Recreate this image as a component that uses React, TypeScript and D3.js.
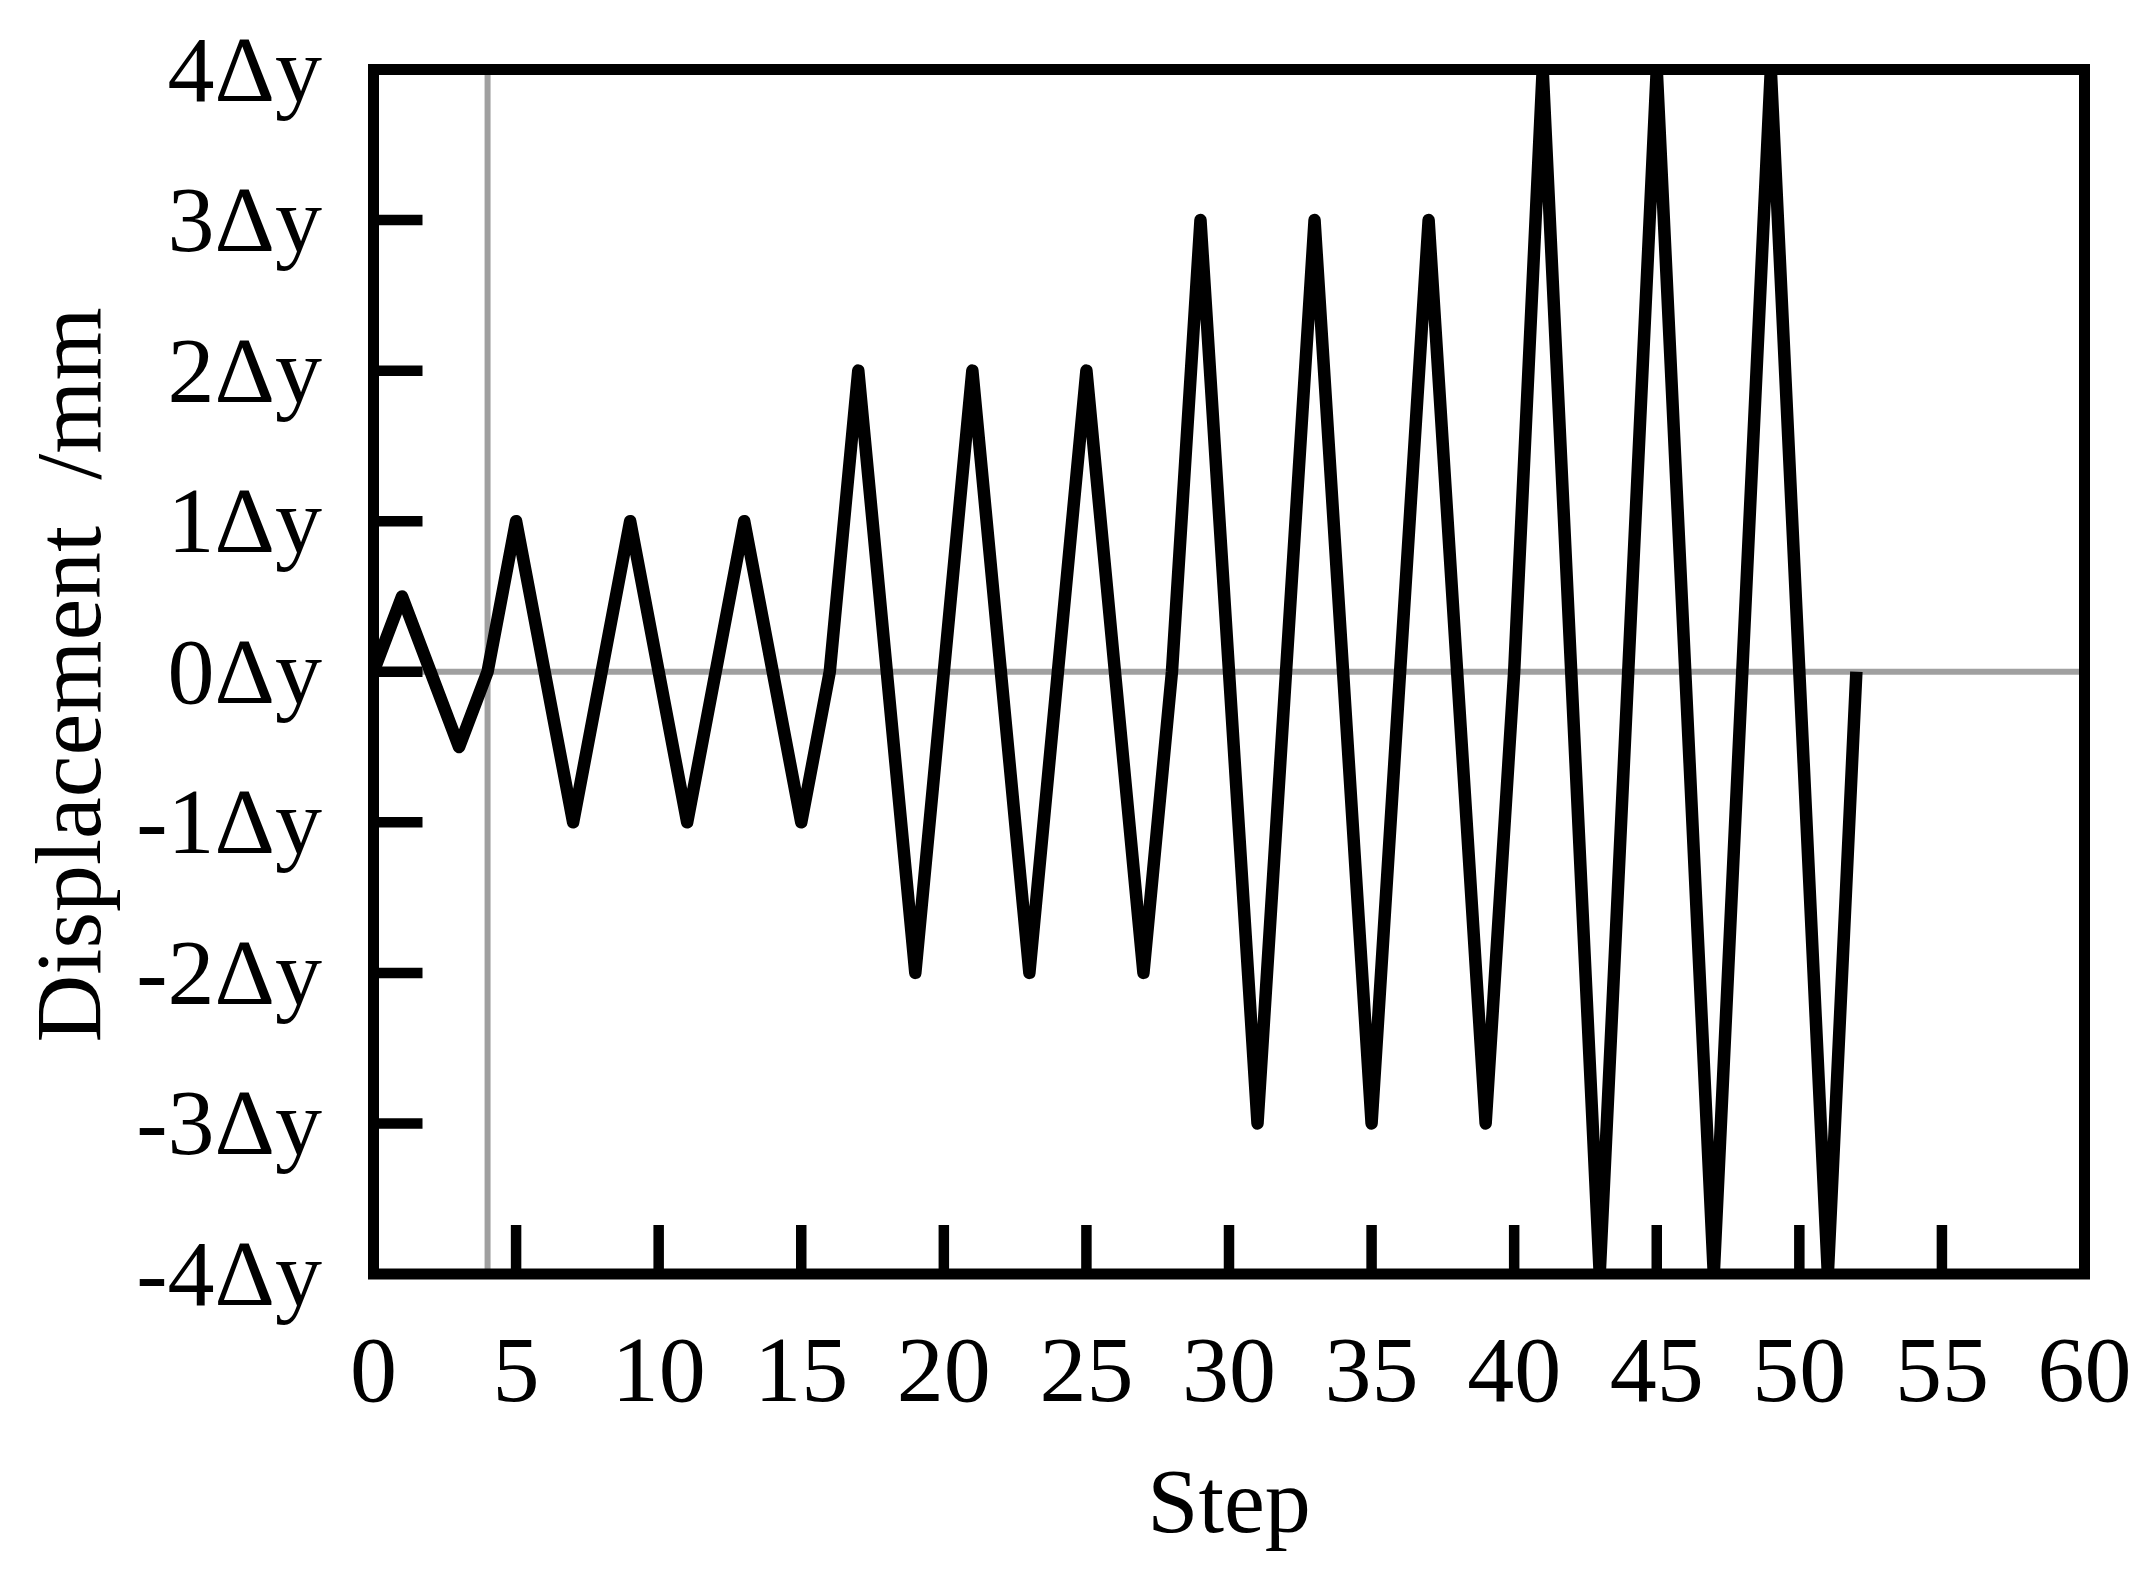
import React from "react";
import { scaleLinear, line } from "d3";

// loading protocol (step, displacement in multiples of Δy)
const steps = [0, 1, 3, 4, 5, 7, 9, 11, 13, 15, 16, 17, 19, 21, 23, 25, 27, 28, 29, 31, 33, 35, 37, 39, 40, 41, 43, 45, 47, 49, 51, 52];
const disp = [0, 0.5, -0.5, 0, 1, -1, 1, -1, 1, -1, 0, 2, -2, 2, -2, 2, -2, 0, 3, -3, 3, -3, 3, -3, 0, 4, -4, 4, -4, 4, -4, 0];

const xTicks = [0, 5, 10, 15, 20, 25, 30, 35, 40, 45, 50, 55, 60];
const yTicks = [4, 3, 2, 1, 0, -1, -2, -3, -4];
const yTickLabels = ["4Δy", "3Δy", "2Δy", "1Δy", "0Δy", "-1Δy", "-2Δy", "-3Δy", "-4Δy"];
const refX = 4;
const refY = 0;

const App = () => {
  const width = 2146;
  const height = 1580;
  const left = 373.5, right = 2084.5, top = 69.5, bottom = 1274;
  const font = "'Liberation Serif', 'Times New Roman', serif";

  const xScale = scaleLinear().domain([0, 60]).range([left, right]);
  const yScale = scaleLinear().domain([-4, 4]).range([bottom, top]);

  const pts = steps.map((s, i) => [s, disp[i]] as [number, number]);
  const path = line<[number, number]>()
    .x((d) => xScale(d[0]))
    .y((d) => yScale(d[1]))(pts);

  return (
    <svg width={width} height={height} style={{ position: "absolute", left: 0, top: 0, background: "#fff" }}>
      <defs>
        <clipPath id="plot">
          <rect x={left} y={top} width={right - left} height={bottom - top} />
        </clipPath>
      </defs>
      {/* reference lines */}
      <line x1={xScale(refX)} x2={xScale(refX)} y1={top} y2={bottom} stroke="#a0a0a0" strokeWidth={6} />
      <line x1={left} x2={right} y1={yScale(refY)} y2={yScale(refY)} stroke="#a0a0a0" strokeWidth={6} />

      <path d={path || ""} fill="none" stroke="#000" strokeWidth={12.5} strokeLinejoin="round" clipPath="url(#plot)" />

      {/* ticks */}
      {yTicks.filter((t) => t > -4 && t < 4).map((t) => (
        <line key={"yt" + t} x1={left} x2={left + 49} y1={yScale(t)} y2={yScale(t)} stroke="#000" strokeWidth={10.5} />
      ))}
      {xTicks.filter((t) => t > 0 && t < 60).map((t) => (
        <line key={"xt" + t} x1={xScale(t)} x2={xScale(t)} y1={bottom} y2={bottom - 49} stroke="#000" strokeWidth={10.5} />
      ))}

      <rect x={left} y={top} width={right - left} height={bottom - top} fill="none" stroke="#000" strokeWidth={11} />

      {/* tick labels */}
      {yTicks.map((t, i) => (
        <text key={"yl" + t} x={322} y={yScale(t) + 31} textAnchor="end" fontFamily={font} fontSize={94} fill="#000">
          {yTickLabels[i]}
        </text>
      ))}
      {xTicks.map((t) => (
        <text key={"xl" + t} x={xScale(t)} y={1401} textAnchor="middle" fontFamily={font} fontSize={94} fill="#000">
          {t}
        </text>
      ))}

      {/* axis titles */}
      <text x={(left + right) / 2} y={1532} textAnchor="middle" fontFamily={font} fontSize={92} fill="#000">
        Step
      </text>
      <text transform={`translate(100, 675) rotate(-90)`} textAnchor="middle" fontFamily={font} fontSize={94} fill="#000">
        Displacement<tspan dx={46}>/mm</tspan>
      </text>
    </svg>
  );
};

export default App;
